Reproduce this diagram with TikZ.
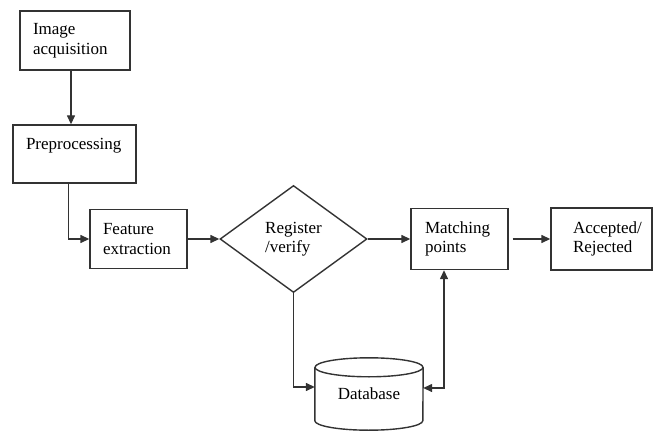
\documentclass[tikz,border=0pt]{standalone}
\usepackage{fontspec}
\setmainfont{Liberation Serif}
\usetikzlibrary{arrows.meta,shapes.geometric,positioning}

\begin{document}
\begin{tikzpicture}[x=1pt,y=-1pt]

	\tikzset{%
		block/.style  = {draw=black!80, line width=1.4pt, rectangle, align=left,
			inner ysep=2pt, font=\fontsize{17}{19.5}\selectfont}, % Kasten
		decide/.style = {draw=black!80, line width=1.4pt, diamond, align=left,
			inner sep=0pt, font=\fontsize{17}{19.5}\selectfont}, % Entscheidung
		line/.style   = {draw=black!80, line width=1.4pt},
		arr/.style    = {-{Triangle[length=9pt,width=8pt]}},
		arrs/.style   = {{Triangle[length=9pt,width=8pt]}-{Triangle[length=9pt,width=8pt]}}
	}
	\useasboundingbox (0,0) rectangle (653,433);

	\node[block, text width=84pt, inner xsep=13pt, minimum height=59pt] (acq) at (75,40.5) {Image\\acquisition};
	\node[block, text width=97pt, inner xsep=13pt, minimum height=58pt] (pre) at (74.5,154) {Preprocessing\\\mbox{}};
	\node[block, text width=71pt, inner xsep=13pt, minimum height=59pt] (feat) at (138.5,239) {Feature\\extraction};
	\node[decide, minimum width=147pt, minimum height=107pt] (reg) at (293.5,239) {Register\\/verify};
	\node[block, text width=69pt, inner xsep=14pt, minimum height=61pt] (match) at (459.5,239) {Matching\\points};
	\node[block, text width=57pt, inner xsep=22pt, minimum height=62pt] (acc) at (601.5,239) {Accepted/\\Rejected};
	\node[minimum width=108pt, minimum height=53pt, inner sep=0pt,
		font=\fontsize{17}{19.5}\selectfont] (db) at (369,394) {Database};

	% Datenbank (Zylinder)
	\draw[line] (db.north west) -- (db.south west)
		arc[start angle=180, end angle=360, x radius=54pt, y radius=9.5pt] -- (db.north east);
	\draw[line] (db.north) ellipse [x radius=54pt, y radius=9.5pt];

	% Pfeile
	\draw[line, arr] ([xshift=-4pt]acq.south) -- ([xshift=-4pt]acq.south |- pre.north);
	\draw[line, arr] ([xshift=-6pt]pre.south) |- (feat.west);
	\draw[line, arr] (feat) -- (reg);
	\draw[line, arr] (reg) -- (match);
	\draw[line, arr, shorten <=4pt] (match) -- (acc);
	\draw[line, arr] (reg.south) |- ([yshift=7pt]db.west);
	\draw[line, arrs] ([xshift=-15.5pt]match.south) |- ([yshift=6pt]db.east);

\end{tikzpicture}
\end{document}
